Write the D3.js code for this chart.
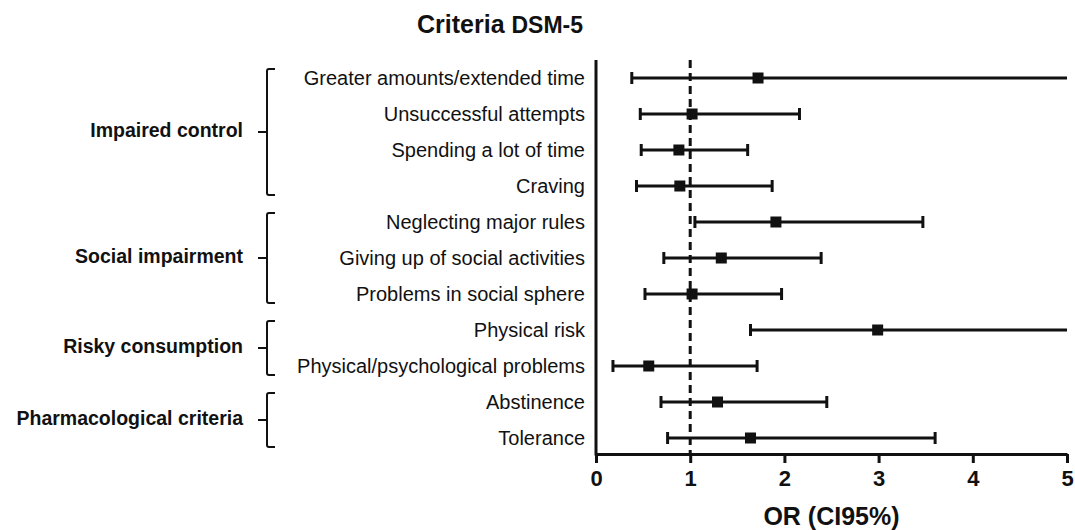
<!DOCTYPE html>
<html>
<head>
<meta charset="utf-8">
<script src="https://cdn.jsdelivr.net/npm/d3@7"></script>
<style>
  body { margin: 0; background: #fff; }
  text { font-family: "Liberation Sans", Arial, sans-serif; fill: #111; }
</style>
</head>
<body>
<script>
// criteria rows, top to bottom
var criteria = ["Greater amounts/extended time", "Unsuccessful attempts", "Spending a lot of time ",
                "Craving", "Neglecting major rules", "Giving up of social activities",
                "Problems in social sphere", "Physical risk", "Physical/psychological problems",
                "Abstinence", "Tolerance"];
var orValues = [1.72, 1.02, 0.88, 0.89, 1.91, 1.33, 1.02, 2.99, 0.56, 1.29, 1.64];
var ciLow    = [0.38, 0.47, 0.48, 0.43, 1.05, 0.72, 0.52, 1.64, 0.18, 0.69, 0.76];
var ciHigh   = [5.00, 2.16, 1.61, 1.87, 3.47, 2.39, 1.97, 5.00, 1.71, 2.45, 3.60];
// groups: label, first row, last row
var groupNames = ["Impaired control", "Social impairment", "Risky consumption", "Pharmacological criteria"];
var groupFirst = [0, 4, 7, 9];
var groupLast  = [3, 6, 8, 10];
var xTicks = [0, 1, 2, 3, 4, 5];

var width = 1075, height = 530;
var margin = {left: 596, right: 8, top: 60, bottom: 76};

var svg = d3.select("body").append("svg").attr("width", width).attr("height", height);
var chartGroup = svg.append("g");

var x = d3.scaleLinear().domain([0, 5]).range([margin.left, width - margin.right]);
var y = d3.scalePoint().domain(criteria).range([78, 438]);

// title
var title = chartGroup.append("text")
    .attr("x", 417).attr("y", 33)
    .style("font-weight", "bold");
title.append("tspan").style("font-size", "25px").text("Criteria ");
title.append("tspan").style("font-size", "23px").text("DSM-5");

// x axis
var xAxis = chartGroup.append("g")
    .attr("transform", "translate(0," + (height - margin.bottom) + ")")
    .call(d3.axisBottom(x).tickValues(xTicks).tickFormat(d3.format("d")).tickSize(9).tickSizeOuter(0));
xAxis.select(".domain").attr("stroke", "#111").attr("stroke-width", 3);
xAxis.selectAll(".tick line").attr("stroke", "#111").attr("stroke-width", 3);
xAxis.selectAll(".tick text")
    .attr("y", 12).attr("dy", "0.9em")
    .style("font-size", "22px").style("font-weight", "bold")
    .style("font-family", "'Liberation Sans', Arial, sans-serif").attr("fill", "#111");

chartGroup.append("text")
    .attr("x", (x(0) + x(5)) / 2).attr("y", 525)
    .style("text-anchor", "middle")
    .style("font-size", "25px").style("font-weight", "bold")
    .text("OR (CI95%)");

// y axis line
chartGroup.append("line")
    .attr("x1", x(0)).attr("x2", x(0))
    .attr("y1", margin.top).attr("y2", height - margin.bottom + 1.5)
    .attr("stroke", "#111").attr("stroke-width", 3);

// reference line at OR = 1
chartGroup.append("line")
    .attr("x1", x(1)).attr("x2", x(1))
    .attr("y1", margin.top).attr("y2", height - margin.bottom)
    .attr("stroke", "#111").attr("stroke-width", 3)
    .attr("stroke-dasharray", "8,5");

// criteria labels
chartGroup.selectAll(".crit")
    .data(criteria)
    .enter().append("text")
        .attr("class", "crit")
        .attr("x", 585)
        .attr("y", function(d){ return y(d); })
        .attr("dy", "0.35em")
        .style("text-anchor", "end")
        .style("font-size", "20px")
        .text(function(d){ return d; });

// error bars
var rows = chartGroup.selectAll(".row")
    .data(criteria)
    .enter().append("g")
        .attr("class", "row")
        .attr("transform", function(d){ return "translate(0," + y(d) + ")"; });

rows.append("line")
    .attr("x1", function(d,i){ return x(ciLow[i]); })
    .attr("x2", function(d,i){ return x(ciHigh[i]); })
    .attr("stroke", "#111").attr("stroke-width", 3);

rows.append("line")
    .attr("x1", function(d,i){ return x(ciLow[i]); })
    .attr("x2", function(d,i){ return x(ciLow[i]); })
    .attr("y1", -6).attr("y2", 6)
    .attr("stroke", "#111").attr("stroke-width", 3);

rows.filter(function(d,i){ return ciHigh[i] < 5; })
    .append("line")
    .attr("x1", function(d){ return x(ciHigh[criteria.indexOf(d)]); })
    .attr("x2", function(d){ return x(ciHigh[criteria.indexOf(d)]); })
    .attr("y1", -6).attr("y2", 6)
    .attr("stroke", "#111").attr("stroke-width", 3);

rows.append("rect")
    .attr("x", function(d,i){ return x(orValues[i]) - 5.5; })
    .attr("y", -5.5)
    .attr("width", 11).attr("height", 11)
    .attr("fill", "#111");

// group brackets and labels
groupNames.forEach(function(g, i){
    var top = y(criteria[groupFirst[i]]) - 9;
    var bot = y(criteria[groupLast[i]]) + 9;
    var mid = (top + bot) / 2;
    var bx = 267;
    chartGroup.append("path")
        .attr("d", "M" + (bx + 8) + "," + top + " L" + (bx + 2) + "," + top +
                   " Q" + bx + "," + top + " " + bx + "," + (top + 2) +
                   " L" + bx + "," + (bot - 2) +
                   " Q" + bx + "," + bot + " " + (bx + 2) + "," + bot +
                   " L" + (bx + 8) + "," + bot)
        .attr("fill", "none").attr("stroke", "#111").attr("stroke-width", 2);
    chartGroup.append("line")
        .attr("x1", bx - 9).attr("x2", bx)
        .attr("y1", mid).attr("y2", mid)
        .attr("stroke", "#111").attr("stroke-width", 2);
    chartGroup.append("text")
        .attr("x", 243).attr("y", mid - 2)
        .attr("dy", "0.35em")
        .style("text-anchor", "end")
        .style("font-size", "19.5px").style("font-weight", "bold")
        .text(g);
});
</script>
</body>
</html>
